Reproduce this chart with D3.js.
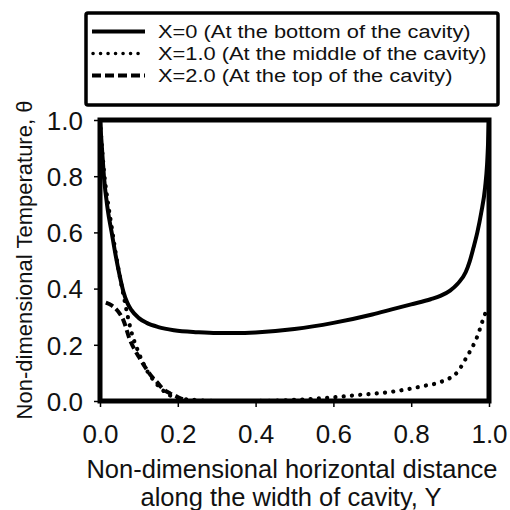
<!DOCTYPE html>
<html>
<head>
<meta charset="utf-8">
<script src="https://cdn.jsdelivr.net/npm/d3@7/dist/d3.min.js"></script>
<style>
  html, body { margin: 0; padding: 0; background: #fff; }
  svg { display: block; font-family: "Liberation Sans", Arial, sans-serif; }
</style>
</head>
<body>
<svg id="chart" width="510" height="510"></svg>
<script>
// Temperature profiles across the cavity width at three heights
const seriesNames = [
  "X=0 (At the bottom of the cavity)",
  "X=1.0 (At the middle of the cavity)",
  "X=2.0 (At the top of the cavity)"
];

const bottomY = [0, 0.005, 0.01, 0.02, 0.03, 0.04, 0.05, 0.06, 0.07, 0.08, 0.1, 0.12, 0.15, 0.19, 0.25, 0.3, 0.35, 0.4, 0.5, 0.6, 0.7, 0.75, 0.8, 0.85, 0.875, 0.9, 0.92, 0.94, 0.95, 0.96, 0.97, 0.98, 0.99, 0.995, 1.0];
const bottomT = [1.0, 0.9, 0.8, 0.68, 0.6, 0.52, 0.45, 0.39, 0.35, 0.325, 0.295, 0.278, 0.263, 0.252, 0.245, 0.242, 0.242, 0.244, 0.256, 0.278, 0.308, 0.326, 0.344, 0.362, 0.374, 0.393, 0.418, 0.458, 0.495, 0.545, 0.6, 0.67, 0.76, 0.84, 1.0];

const middleY = [0, 0.01, 0.02, 0.03, 0.04, 0.05, 0.06, 0.07, 0.08, 0.1, 0.12, 0.14, 0.16, 0.18, 0.2, 0.25, 0.3, 0.4, 0.5, 0.6, 0.66, 0.75, 0.83, 0.88, 0.92, 0.94, 0.97, 0.99, 0.995];
const middleT = [1.0, 0.82, 0.71, 0.62, 0.53, 0.45, 0.38, 0.31, 0.25, 0.17, 0.11, 0.07, 0.04, 0.02, 0.01, 0.003, 0.0, 0.0, 0.004, 0.013, 0.021, 0.033, 0.053, 0.07, 0.105, 0.15, 0.23, 0.31, 0.325];

const topY = [0.015, 0.03, 0.047, 0.06, 0.077, 0.09, 0.103, 0.12, 0.133, 0.146, 0.159, 0.18, 0.2, 0.215, 0.225];
const topT = [0.35, 0.34, 0.318, 0.288, 0.217, 0.18, 0.15, 0.112, 0.087, 0.068, 0.047, 0.027, 0.014, 0.005, 0.0];

const xTicks = [0, 0.2, 0.4, 0.6, 0.8, 1.0];
const yTicks = [0, 0.2, 0.4, 0.6, 0.8, 1.0];

const svg = d3.select("#chart");
const plotLeft = 100, plotRight = 489, plotTop = 120, plotBottom = 401;

const x = d3.scaleLinear().domain([0, 1]).range([plotLeft, plotRight]);
const y = d3.scaleLinear().domain([0, 1]).range([plotBottom, plotTop]);

const styles = [
  { dash: null, cap: "butt" },
  { dash: "0.1 8.2", cap: "round" },
  { dash: "8 4", cap: "butt" }
];

const series = [
  { ys: bottomY, ts: bottomT },
  { ys: middleY, ts: middleT },
  { ys: topY, ts: topT }
];

const line = d3.line().x(d => x(d[0])).y(d => y(d[1])).curve(d3.curveMonotoneX);

// axes with outward ticks
const xAxis = d3.axisBottom(x).tickValues(xTicks).tickFormat(d3.format(".1f")).tickSizeOuter(0).tickSizeInner(6).tickPadding(18);
const yAxis = d3.axisLeft(y).tickValues(yTicks).tickFormat(d3.format(".1f")).tickSizeOuter(0).tickSizeInner(6).tickPadding(11);

const gx = svg.append("g").attr("transform", `translate(0,${plotBottom})`).call(xAxis);
const gy = svg.append("g").attr("transform", `translate(${plotLeft},0)`).call(yAxis);
[gx, gy].forEach(g => {
  g.select(".domain").remove();
  g.selectAll(".tick line").attr("stroke", "#000").attr("stroke-width", 1.5);
  g.selectAll(".tick text").attr("fill", "#111").style("font-size", "26px").style("font-family", "'Liberation Sans', Arial, sans-serif");
});
gy.selectAll(".tick text").attr("dy", "0.36em");

// data curves
const curves = svg.append("g");
series.forEach((s, i) => {
  const pts = s.ys.map((v, k) => [v, s.ts[k]]);
  curves.append("path")
    .datum(pts)
    .attr("d", line)
    .attr("fill", "none")
    .attr("stroke", "#000")
    .attr("stroke-width", i === 1 ? 4.2 : 4)
    .attr("stroke-linecap", styles[i].cap)
    .attr("stroke-dasharray", styles[i].dash);
});

// plot frame
svg.append("rect")
  .attr("x", plotLeft).attr("y", plotTop)
  .attr("width", plotRight - plotLeft).attr("height", plotBottom - plotTop)
  .attr("fill", "none").attr("stroke", "#000").attr("stroke-width", 5);

// legend: compact rows, text widened horizontally
const lg = svg.append("g");
lg.append("rect")
  .attr("x", 86).attr("y", 13).attr("width", 412).attr("height", 92)
  .attr("rx", 2)
  .attr("fill", "#fff").attr("stroke", "#000").attr("stroke-width", 3.5);
seriesNames.forEach((name, i) => {
  const yy = 31.5 + i * 22;
  lg.append("line")
    .attr("x1", i === 1 ? 93 : 92).attr("x2", 145)
    .attr("y1", yy).attr("y2", yy)
    .attr("stroke", "#000")
    .attr("stroke-width", i === 1 ? 3.5 : 4)
    .attr("stroke-linecap", styles[i].cap)
    .attr("stroke-dasharray", i === 1 ? "0.1 7.4" : (i === 2 ? "9 4" : null));
  lg.append("text")
    .attr("transform", `translate(158,${yy}) scale(1.15,1)`)
    .attr("dy", "0.36em")
    .style("font-size", "19px")
    .attr("fill", "#111")
    .text(name);
});

// axis titles
svg.append("text")
  .attr("x", 292).attr("y", 478)
  .attr("text-anchor", "middle")
  .style("font-size", "25.5px")
  .attr("fill", "#111")
  .text("Non-dimensional horizontal distance");
svg.append("text")
  .attr("x", 291).attr("y", 506)
  .attr("text-anchor", "middle")
  .style("font-size", "25.5px")
  .attr("fill", "#111")
  .text("along the width of cavity, Y");
svg.append("text")
  .attr("transform", "translate(32,260) rotate(-90)")
  .attr("text-anchor", "middle")
  .style("font-size", "22px")
  .attr("fill", "#111")
  .text("Non-dimensional Temperature, θ");
</script>
</body>
</html>
